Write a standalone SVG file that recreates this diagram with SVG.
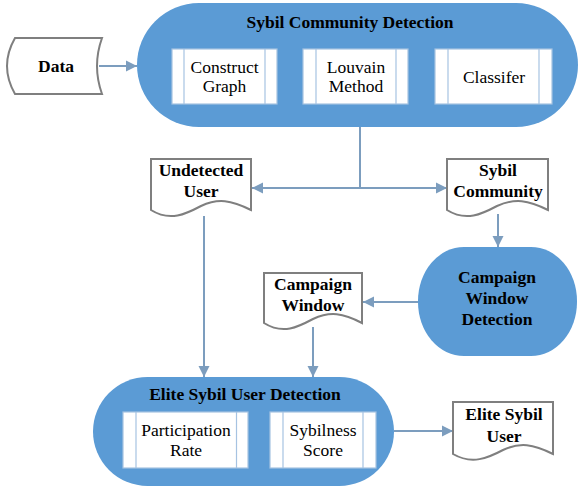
<svg xmlns="http://www.w3.org/2000/svg" width="579" height="489" viewBox="0 0 579 489">
<defs>
<marker id="arr" markerUnits="userSpaceOnUse" markerWidth="12" markerHeight="12" refX="11" refY="6" orient="auto">
<path d="M0,0.5 L11,6 L0,11.5 Z" fill="#7c9dbe"/>
</marker>
</defs>
<style>
.pill{fill:#5b9bd5;}
.sub{fill:#ffffff;stroke:#a6c3e2;stroke-width:1.2;}
.doc{fill:#ffffff;stroke:#7f7f7f;stroke-width:2;}
.con{fill:none;stroke:#7c9dbe;stroke-width:2;}
text{font-family:"Liberation Serif","Times New Roman",serif;font-size:17.5px;fill:#000;text-anchor:middle;}
.b{font-weight:bold;}
</style>
<rect width="579" height="489" fill="#ffffff"/>
<g id="connectors">
<line class="con" x1="99" y1="66" x2="137" y2="66" marker-end="url(#arr)"/>
<line class="con" x1="360" y1="126" x2="360" y2="188"/>
<line class="con" x1="360" y1="188" x2="252" y2="188" marker-end="url(#arr)"/>
<line class="con" x1="360" y1="188" x2="447" y2="188" marker-end="url(#arr)"/>
<line class="con" x1="498" y1="214" x2="498" y2="247" marker-end="url(#arr)"/>
<line class="con" x1="418" y1="302" x2="363" y2="302" marker-end="url(#arr)"/>
<line class="con" x1="313" y1="327" x2="313" y2="377" marker-end="url(#arr)"/>
<line class="con" x1="204" y1="216" x2="204" y2="377" marker-end="url(#arr)"/>
<line class="con" x1="394" y1="431" x2="453" y2="431" marker-end="url(#arr)"/>
</g>
<g id="data">
<path class="doc" d="M15,38 L102,38 Q92,66 102,94 L15,94 Q-1,66 15,38 Z"/>
<text class="b" x="56" y="72">Data</text>
</g>
<g id="sybil-community-detection">
<rect class="pill" x="137" y="3" width="441" height="124" rx="62" ry="62"/>
<text class="b" x="350" y="28">Sybil Community Detection</text>
</g>
<g id="construct-graph">
<rect class="sub" x="172" y="49" width="105" height="55"/>
<line class="sub" x1="184" y1="49" x2="184" y2="104"/>
<line class="sub" x1="265" y1="49" x2="265" y2="104"/>
<text x="224.5" y="73">Construct</text>
<text x="224.5" y="92">Graph</text>
</g>
<g id="louvain-method">
<rect class="sub" x="303" y="49" width="105" height="55"/>
<line class="sub" x1="316" y1="49" x2="316" y2="104"/>
<line class="sub" x1="396" y1="49" x2="396" y2="104"/>
<text x="356" y="73">Louvain</text>
<text x="356" y="92">Method</text>
</g>
<g id="classifer">
<rect class="sub" x="435" y="49" width="117" height="55"/>
<line class="sub" x1="448" y1="49" x2="448" y2="104"/>
<line class="sub" x1="539" y1="49" x2="539" y2="104"/>
<text x="494" y="83">Classifer</text>
</g>
<g id="undetected-user">
<path class="doc" d="M151,159 L251,159 L251,210 C231,200 218,198 201,206 C186,214 170,222 151,210 Z"/>
<text class="b" x="201" y="176">Undetected</text>
<text class="b" x="201" y="197">User</text>
</g>
<g id="sybil-community">
<path class="doc" d="M447,159 L548,159 L548,210 C528,200 515,198 497,206 C482,214 466,222 447,210 Z"/>
<text class="b" x="498" y="176">Sybil</text>
<text class="b" x="498" y="197">Community</text>
</g>
<g id="campaign-window-detection">
<rect class="pill" x="418" y="247" width="159" height="109" rx="46" ry="54"/>
<text class="b" x="497" y="283">Campaign</text>
<text class="b" x="497" y="304">Window</text>
<text class="b" x="497" y="325">Detection</text>
</g>
<g id="campaign-window">
<path class="doc" d="M264,273 L362,273 L362,323 C343,313 330,311 313,319 C298,327 283,335 264,323 Z"/>
<text class="b" x="313" y="290">Campaign</text>
<text class="b" x="313" y="311">Window</text>
</g>
<g id="elite-sybil-user-detection">
<rect class="pill" x="93" y="377" width="301" height="109" rx="54.5" ry="54.5"/>
<text class="b" x="245" y="400">Elite Sybil User Detection</text>
</g>
<g id="participation-rate">
<rect class="sub" x="123" y="412" width="125" height="56"/>
<line class="sub" x1="136" y1="412" x2="136" y2="468"/>
<line class="sub" x1="236.5" y1="412" x2="236.5" y2="468"/>
<text x="186" y="436">Participation</text>
<text x="186" y="456">Rate</text>
</g>
<g id="sybilness-score">
<rect class="sub" x="270" y="412" width="106" height="56"/>
<line class="sub" x1="283" y1="412" x2="283" y2="468"/>
<line class="sub" x1="363" y1="412" x2="363" y2="468"/>
<text x="323" y="436">Sybilness</text>
<text x="323" y="456">Score</text>
</g>
<g id="elite-sybil-user">
<path class="doc" d="M453,402 L553,402 L553,454 C533,444 520,442 503,450 C488,458 472,465 453,454 Z"/>
<text class="b" x="504" y="420">Elite Sybil</text>
<text class="b" x="504" y="442">User</text>
</g>
</svg>
